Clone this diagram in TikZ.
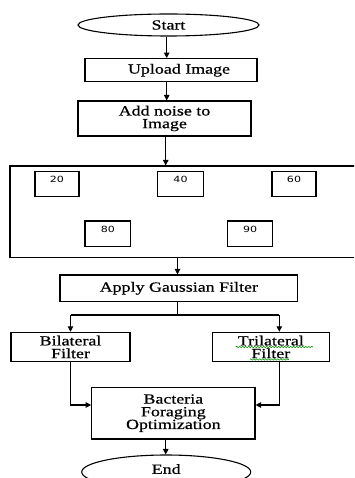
\documentclass[tikz,border=0pt]{standalone}
\usepackage{fontspec}
\newfontfamily\diagserif[FakeStretch=1.28,FakeBold=0.6]{Liberation Serif}
\newfontfamily\diagsans[FakeStretch=1.3]{DejaVu Sans}
\usetikzlibrary{arrows.meta,shapes.geometric,decorations.pathmorphing}
\begin{document}
\begin{tikzpicture}[x=1pt,y=-1pt,
  every node/.style={inner sep=0pt},
  flowbox/.style={draw, line width=1.1pt, rectangle, font=\diagserif\fontsize{14}{12.7}\selectfont, align=center},
  term/.style={draw, line width=1.1pt, ellipse, font=\diagserif\fontsize{14}{12.7}\selectfont},
  numbox/.style={draw, line width=1.1pt, minimum width=44pt, minimum height=25pt},
  numlabel/.style={font=\diagsans\fontsize{8.5}{9}\selectfont},
  conn/.style={line width=1.1pt},
  arr/.style={conn, -{Triangle[length=5.5pt,width=5.5pt]}},
  squiggle/.style={draw=green!60!black, line width=0.6pt, decorate, decoration={snake, segment length=3pt, amplitude=0.8pt}}
]
\useasboundingbox (0,0) rectangle (354,478);
\clip (0,0) rectangle (354,478);
\fill[white] (0,0) rectangle (354,478);

% coordinates for connector lines
\coordinate (c1) at (166.7,0);
\coordinate (c2) at (165.7,0);
\coordinate (c3) at (177.5,0);
\coordinate (cR) at (279.3,0);
\coordinate (split) at (177.5,315);
\coordinate (merge) at (0,405);

% nodes
\node[term, minimum width=181pt, minimum height=22pt] (start) at (168.5,25) {Start};
\node[flowbox, minimum width=172pt, minimum height=23.3pt] (upload) at (171,70.3) {\hspace*{16pt}Upload Image};
\node[flowbox, minimum width=173pt, minimum height=35pt] (noise) at (164.5,118.5) {Add noise to\\Image};
\node[draw, line width=1.1pt, minimum width=352pt, minimum height=91.7pt] (big) at (186,211.85) {};
\node[numbox, label={[numlabel, anchor=north, yshift=-5pt]north:20}] (b20) at (57,184.2) {};
\node[numbox, minimum width=45.6pt, label={[numlabel, anchor=north, yshift=-5pt]north:40}] (b40) at (180.5,184.2) {};
\node[numbox, label={[numlabel, anchor=north, yshift=-5pt]north:60}] (b60) at (294,184.2) {};
\node[numbox, minimum width=45.6pt, minimum height=25.7pt, label={[numlabel, anchor=north, yshift=-5.5pt]north:80}] (b80) at (107.8,233.8) {};
\node[numbox, minimum width=45pt, minimum height=25.7pt, label={[numlabel, anchor=north, yshift=-5.5pt]north:90}] (b90) at (250.2,233.8) {};
\node[flowbox, minimum width=237.7pt, minimum height=26.7pt] (gauss) at (178.85,288.35) {Apply Gaussian Filter};
\node[flowbox, minimum width=119pt, minimum height=29.4pt] (bil) at (70.5,347) {Bilateral\\Filter};
\node[flowbox, minimum width=117pt, minimum height=29.4pt] (tri) at (270.8,347) {Trilateral\\Filter};
\node[flowbox, minimum width=163.3pt, minimum height=51.7pt] (bfo) at (173.35,413.15) {Bacteria\\Foraging\\Optimization};
\node[term, minimum width=169pt, minimum height=34pt, text depth=6pt] (end) at (166.2,472) {End};

% spell-check underline
\draw[squiggle] ([shift={(-35,0)}]tri.center) -- ([shift={(42,0)}]tri.center);
\draw[squiggle] ([shift={(-21,12.5)}]tri.center) -- ([shift={(18,12.5)}]tri.center);

% connectors
\draw[arr] (start.south -| c1) -- (upload.north -| c1);
\draw[arr] (upload.south -| c1) -- (noise.north -| c1);
\draw[arr] (noise.south -| c2) -- (big.north -| c2);
\draw[arr] (big.south -| c3) -- (gauss.north -| c3);
\draw[conn] (gauss.south -| c3) -- (split);
\draw[conn] (split -| bil) -- (split -| cR);
\draw[arr] (split -| bil) -- (bil.north);
\draw[arr] (split -| cR) -- (tri.north -| cR);
\draw[arr] (bil.south) -- (bil.south |- merge) -- (merge -| bfo.west);
\draw[arr] (tri.south -| cR) -- (cR |- merge) -- (merge -| bfo.east);
\draw[arr] (bfo.south -| c2) -- (end.north -| c2);
\end{tikzpicture}
\end{document}
